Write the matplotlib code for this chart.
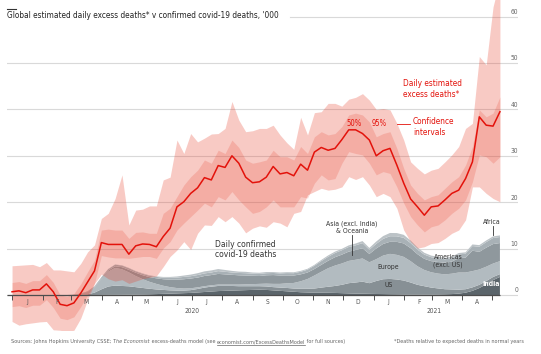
import numpy as np
import pandas as pd
import matplotlib.pyplot as plt
import matplotlib.transforms as mtransforms
from matplotlib import font_manager
from matplotlib.lines import Line2D

W, H = 541, 354

# pick a narrow sans if one is installed (the original uses a condensed face)
narrow = None
for f in font_manager.fontManager.ttflist:
    if f.name == 'Liberation Sans Narrow':
        narrow = (f.name, f.stretch)
        break
if narrow is None:
    for f in font_manager.fontManager.ttflist:
        if f.name in ('DejaVu Sans', 'Noto Sans', 'Open Sans', 'Roboto') and 'condensed' in str(f.stretch):
            narrow = (f.name, f.stretch)
            break
if narrow:
    plt.rcParams['font.family'] = [narrow[0], 'DejaVu Sans']
    plt.rcParams['font.stretch'] = narrow[1]
else:
    plt.rcParams['font.family'] = ['Roboto', 'DejaVu Sans']

# weekly points, Jan 2020 - early May 2021 ('000 deaths a day)
weeks = pd.date_range('2020-01-01', '2021-05-09', periods=72)

excess = [0.7, 0.9, 0.5, 1.1, 1.1, 2.4, 0.7, -2.0, -2.3, -1.7,
          0.4, 2.8, 5.2, 11.3, 10.9, 10.9, 10.9, 8.8, 10.6, 11.0,
          10.9, 10.4, 12.6, 14.4, 19.0, 20.1, 21.9, 23.1, 25.3, 24.8,
          27.9, 27.5, 30.0, 28.4, 25.4, 24.2, 24.4, 25.4, 27.7, 26.1,
          26.4, 25.7, 28.2, 26.9, 30.8, 31.8, 31.2, 31.6, 33.5, 35.6,
          35.6, 34.8, 33.4, 30.0, 31.1, 31.6, 28.0, 24.1, 20.7, 19.0,
          17.2, 19.0, 19.2, 20.5, 21.9, 22.6, 25.1, 28.7, 38.4, 36.6,
          36.4, 39.5]

ci95_hi = [6.3, 6.4, 6.5, 6.6, 6.1, 7.0, 5.4, 5.4, 5.2, 5.0,
           6.8, 9.3, 10.8, 16.5, 17.6, 20.8, 25.9, 15.1, 18.3, 18.5,
           19.2, 19.2, 24.8, 25.4, 33.4, 30.5, 34.8, 33.0, 33.8, 34.7,
           34.8, 35.9, 41.7, 37.7, 35.2, 35.4, 35.9, 35.9, 36.6, 34.5,
           32.8, 31.4, 38.3, 34.5, 39.3, 39.5, 41.3, 41.3, 40.7, 42.2,
           42.6, 43.4, 42.0, 40.0, 40.2, 39.9, 37.0, 33.4, 28.7, 27.3,
           26.1, 26.9, 27.3, 28.7, 30.2, 32.0, 35.9, 37.0, 51.4, 49.6,
           62.1, 68.0]
ci95_lo = [-5.7, -6.5, -6.2, -6.0, -5.8, -5.7, -7.5, -7.6, -7.9, -7.6,
           -5.0, -1.0, 2.5, 4.5, 3.5, 3.0, 3.3, 2.5, 3.0, 3.5,
           3.8, 4.1, 6.1, 8.3, 9.7, 11.5, 9.8, 13.3, 15.1, 15.0,
           16.9, 15.8, 16.9, 15.5, 13.4, 14.4, 14.9, 14.6, 15.8, 15.5,
           14.7, 17.6, 18.0, 21.6, 22.3, 23.0, 22.6, 22.8, 23.3, 25.5,
           24.9, 25.5, 23.7, 21.2, 21.9, 21.2, 18.7, 14.0, 11.5, 10.1,
           10.4, 11.1, 11.3, 12.2, 13.3, 14.0, 16.2, 23.3, 23.3, 21.9,
           20.8, 20.1]
ci50_hi = [2.7, 2.9, 2.5, 3.1, 3.1, 4.4, 2.7, 0.0, -0.3, 0.3,
           2.4, 5.0, 7.5, 14.0, 14.2, 14.0, 14.0, 12.2, 13.5, 13.6,
           13.3, 13.3, 17.6, 18.7, 21.2, 23.7, 25.5, 26.9, 29.1, 28.4,
           31.2, 30.5, 33.4, 31.8, 29.1, 28.4, 28.7, 29.1, 31.2, 29.8,
           29.8, 29.1, 32.0, 30.5, 34.1, 35.2, 34.5, 34.8, 36.3, 38.8,
           39.2, 38.8, 37.3, 34.1, 34.8, 35.2, 31.6, 27.3, 23.7, 21.9,
           20.5, 21.2, 21.6, 23.0, 24.4, 25.5, 28.0, 32.0, 39.9, 38.4,
           39.2, 42.7]
ci50_lo = [-2.5, -2.3, -2.7, -2.2, -2.2, -1.0, -2.7, -5.0, -5.3, -4.7,
           -2.5, 0.0, 2.5, 8.5, 8.2, 8.0, 8.0, 7.9, 8.1, 8.3,
           8.3, 7.9, 10.1, 11.5, 14.0, 15.5, 16.9, 18.3, 19.8, 19.0,
           21.2, 20.5, 22.3, 20.5, 19.0, 17.6, 18.0, 19.0, 20.5, 19.0,
           19.0, 19.0, 21.2, 20.9, 24.1, 25.9, 24.8, 25.1, 28.4, 30.9,
           30.5, 30.2, 28.4, 25.9, 26.6, 26.2, 23.3, 19.8, 16.9, 15.1,
           13.6, 14.7, 15.1, 16.2, 17.6, 18.7, 20.5, 24.4, 30.2, 29.8,
           28.4, 29.8]

# confirmed covid-19 deaths by region, stacked bottom to top
india = [0] * 12 + [0.01, 0.02, 0.03, 0.04, 0.05, 0.08, 0.1, 0.12,
                    0.15, 0.2, 0.25, 0.3, 0.35, 0.4, 0.45, 0.55, 0.65, 0.75,
                    0.85, 0.9, 0.95, 1.0, 1.05, 1.1, 1.15, 1.1, 1.0, 0.9,
                    0.8, 0.7, 0.6, 0.55, 0.5, 0.5, 0.48, 0.45, 0.4, 0.35,
                    0.3, 0.28, 0.25, 0.22, 0.2, 0.17, 0.15, 0.12, 0.1, 0.1,
                    0.1, 0.1, 0.12, 0.15, 0.2, 0.3, 0.5, 0.9, 1.5, 2.3,
                    3.2, 3.9]
us = [0] * 10 + [0.03, 0.15, 0.5, 1.2, 1.8, 2.0, 1.9, 1.8, 1.6, 1.4,
                 1.2, 1.0, 0.85, 0.7, 0.6, 0.55, 0.6, 0.75, 0.95, 1.05,
                 1.1, 1.05, 1.0, 0.9, 0.85, 0.8, 0.75, 0.75, 0.7, 0.7,
                 0.72, 0.7, 0.75, 0.8, 0.9, 1.1, 1.3, 1.5, 1.8, 2.2,
                 2.4, 2.6, 2.3, 2.8, 3.2, 3.3, 3.2, 3.0, 2.6, 2.1,
                 1.8, 1.5, 1.3, 1.1, 1.0, 0.85, 0.75, 0.75, 0.7, 0.7,
                 0.68, 0.6]
europe = [0] * 9 + [0.05, 0.2, 0.5, 1.1, 2.2, 3.2, 3.8, 3.6, 3.0, 2.4, 1.9,
                    1.5, 1.2, 0.9, 0.7, 0.55, 0.45, 0.4, 0.35, 0.3, 0.3,
                    0.3, 0.3, 0.3, 0.35, 0.4, 0.45, 0.5, 0.6, 0.7, 0.8,
                    1.0, 1.2, 1.6, 2.1, 2.8, 3.4, 4.0, 4.4, 4.6, 4.8,
                    4.9, 5.0, 4.5, 4.7, 5.1, 5.4, 5.3, 5.1, 4.6, 4.0,
                    3.5, 3.3, 3.2, 3.2, 3.4, 3.7, 3.6, 3.5, 3.3, 3.1,
                    2.9, 2.8]
americas = [0] * 10 + [0.02, 0.05, 0.1, 0.15, 0.25, 0.35, 0.45, 0.55, 0.7, 0.85,
                       1.0, 1.2, 1.4, 1.6, 1.8, 2.0, 2.1, 2.1, 2.2, 2.2,
                       2.3, 2.2, 2.1, 2.0, 1.9, 1.8, 1.7, 1.8, 1.9, 1.8,
                       1.7, 1.6, 1.5, 1.4, 1.4, 1.5, 1.6, 1.8, 1.9, 2.0,
                       2.1, 2.2, 1.8, 2.3, 2.5, 2.6, 2.8, 2.9, 2.8, 2.6,
                       2.4, 2.4, 2.5, 2.5, 2.6, 3.1, 3.2, 4.4, 3.8, 4.1,
                       4.2, 3.9]
asia = [0] * 9 + [0.05, 0.07, 0.1, 0.15, 0.25, 0.3, 0.35, 0.35, 0.35, 0.3, 0.3,
                  0.3, 0.3, 0.35, 0.4, 0.45, 0.5, 0.5, 0.55, 0.55, 0.55,
                  0.6, 0.55, 0.5, 0.5, 0.5, 0.45, 0.45, 0.45, 0.45, 0.45,
                  0.5, 0.5, 0.55, 0.6, 0.7, 0.8, 0.85, 0.9, 0.95, 1.0,
                  1.0, 1.1, 0.9, 1.0, 1.1, 1.2, 1.2, 1.2, 1.1, 1.0,
                  0.9, 0.85, 0.8, 0.75, 0.75, 0.8, 0.85, 1.0, 1.1, 1.2,
                  1.3, 1.3]
africa = [0] * 11 + [0.01, 0.02, 0.03, 0.05, 0.05, 0.06, 0.07, 0.08, 0.1,
                     0.1, 0.12, 0.15, 0.2, 0.25, 0.3, 0.35, 0.4, 0.45, 0.45,
                     0.45, 0.4, 0.35, 0.3, 0.3, 0.25, 0.25, 0.25, 0.2, 0.2,
                     0.2, 0.2, 0.2, 0.2, 0.2, 0.25, 0.3, 0.3, 0.3, 0.35,
                     0.4, 0.45, 0.4, 0.5, 0.6, 0.7, 0.7, 0.65, 0.55, 0.45,
                     0.4, 0.35, 0.3, 0.3, 0.3, 0.3, 0.3, 0.35, 0.35, 0.35,
                     0.35, 0.35]

region_colors = ['#5b656b', '#879095', '#b2bbc0', '#8f989d', '#a8b1b6', '#bcc3c7']

month_starts = pd.date_range('2020-01-01', '2021-05-01', freq='MS')
month_mids = month_starts[:-1] + pd.Timedelta(days=15)
month_labels = [d.strftime('%b')[0] for d in month_starts[:-1]]
y_ticks = [0, 10, 20, 30, 40, 50, 60]

RED = '#e3120b'
BAND = '#e63c28'
TITLE = "Global estimated daily excess deaths* v confirmed covid-19 deaths, '000"

fig = plt.figure(figsize=(W / 100, H / 100), dpi=100)
renderer = fig.canvas.get_renderer()


def ftext(x, y, s, **kw):
    return fig.text(x / W, 1 - y / H, s, **kw)


def fline(x0, y0, x1, y1, color, lw=0.6):
    fig.add_artist(Line2D([x0 / W, x1 / W], [1 - y0 / H, 1 - y1 / H], color=color, lw=lw))


# title, and a font scale so the title keeps its width whatever face is used
title = ftext(7, 15.5, TITLE, fontsize=6.8, color='#222222', va='center')
sc = min(1.15, 276 / title.get_window_extent(renderer).width)
title.set_fontsize(6.8 * sc)
fline(7, 9, 16, 9, '#333333', lw=0.8)


def fs(x):
    return x * sc


ax = fig.add_axes([7 / W, 1 - 330 / H, 511 / W, 330 / H])
t0 = pd.Timestamp('2020-01-01')
ax.set_xlim(t0 - pd.Timedelta(days=5.1), t0 + pd.Timedelta(days=512.3))
ax.set_ylim(-7.54, 63.58)
ax.axis('off')

# gridlines
for v in y_ticks:
    xmin = (290 - 7) / 511 if v == 60 else 0
    ax.axhline(v, xmin=xmin, color='#d9d9d9', lw=0.8, zorder=0)
    ax.text(1.0, v + 0.35, str(v), transform=mtransforms.blended_transform_factory(ax.transAxes, ax.transData),
            ha='right', va='bottom', fontsize=fs(5.5), color='#666666')

ax.stackplot(weeks, india, us, europe, americas, asia, africa,
             colors=region_colors, lw=0, zorder=2)

ax.fill_between(weeks, ci95_lo, ci95_hi, color=BAND, alpha=0.27, lw=0, zorder=3)
ax.fill_between(weeks, ci50_lo, ci50_hi, color=BAND, alpha=0.2, lw=0, zorder=4)
ax.plot(weeks, excess, color=RED, lw=1.1, zorder=6)

# baseline with month ticks
x_left = ax.get_xlim()[0]
ax.hlines(0, x_left, weeks[-1], color='#4d4d4d', lw=0.9, zorder=5)
tick_len = 5 / (330 / 71.12)
ax.vlines(month_starts, -tick_len, 0, color='#4d4d4d', lw=0.7, zorder=5)
for d, lab in zip(month_mids, month_labels):
    ax.text(d, -1.55, lab, ha='center', va='center', fontsize=fs(5.5), color='#555555', zorder=7)
ax.text(pd.Timestamp('2020-07-01'), -3.5, '2020', ha='center', va='center', fontsize=fs(5.5), color='#555555')
ax.text(pd.Timestamp('2021-03-03'), -3.5, '2021', ha='center', va='center', fontsize=fs(5.5), color='#555555')

# annotations
ftext(403, 89, 'Daily estimated\nexcess deaths*', fontsize=fs(6.8), color=RED, va='center', linespacing=1.25)
ftext(354, 123, '50%', fontsize=fs(6.3), color=RED, va='center', ha='center')
ftext(379, 123, '95%', fontsize=fs(6.3), color=RED, va='center', ha='center')
fline(397, 124, 410, 124, RED)
ftext(413, 127, 'Confidence\nintervals', fontsize=fs(6.8), color=RED, va='center', linespacing=1.2)

ftext(215, 249.5, 'Daily confirmed\ncovid-19 deaths', fontsize=fs(7), color='#333333', va='center',
      linespacing=1.2)
ftext(352, 227, 'Asia (excl. India)\n& Oceania', fontsize=fs(5.6), color='#333333', va='center', ha='center',
      linespacing=1.2)
fline(352, 235, 352, 255, '#333333')
ftext(388, 267.5, 'Europe', fontsize=fs(5.6), color='#333333', va='center', ha='center')
ftext(389, 285, 'US', fontsize=fs(5.6), color='#333333', va='center', ha='center')
ftext(448, 261, 'Americas\n(excl. US)', fontsize=fs(5.6), color='#333333', va='center', ha='center',
      linespacing=1.2)
ftext(492, 221.5, 'Africa', fontsize=fs(5.6), color='#333333', va='center', ha='center')
fline(492.7, 226, 492.7, 235, '#333333')
ftext(491, 284.5, 'India', fontsize=fs(5.6), color='white', va='center', ha='center', fontweight='bold')

# footer
fx = 11
parts = [('Sources: Johns Hopkins University CSSE; ', {}),
         ('The Economist', {'style': 'italic'}),
         (' excess-deaths model (see ', {}),
         ('economist.com/ExcessDeathsModel', {'underline': True}),
         (' for full sources)', {})]
for s, kw in parts:
    underline = kw.pop('underline', False)
    t = ftext(fx, 343, s, fontsize=fs(4.5), color='#666666', va='baseline', **kw)
    w = t.get_window_extent(renderer).width
    if underline:
        fline(fx, 344.5, fx + w, 344.5, '#666666', lw=0.5)
    fx += w
ftext(524, 343, '*Deaths relative to expected deaths in normal years', fontsize=fs(4.5),
      color='#666666', va='baseline', ha='right')

fig.savefig('out.png', dpi=100)
